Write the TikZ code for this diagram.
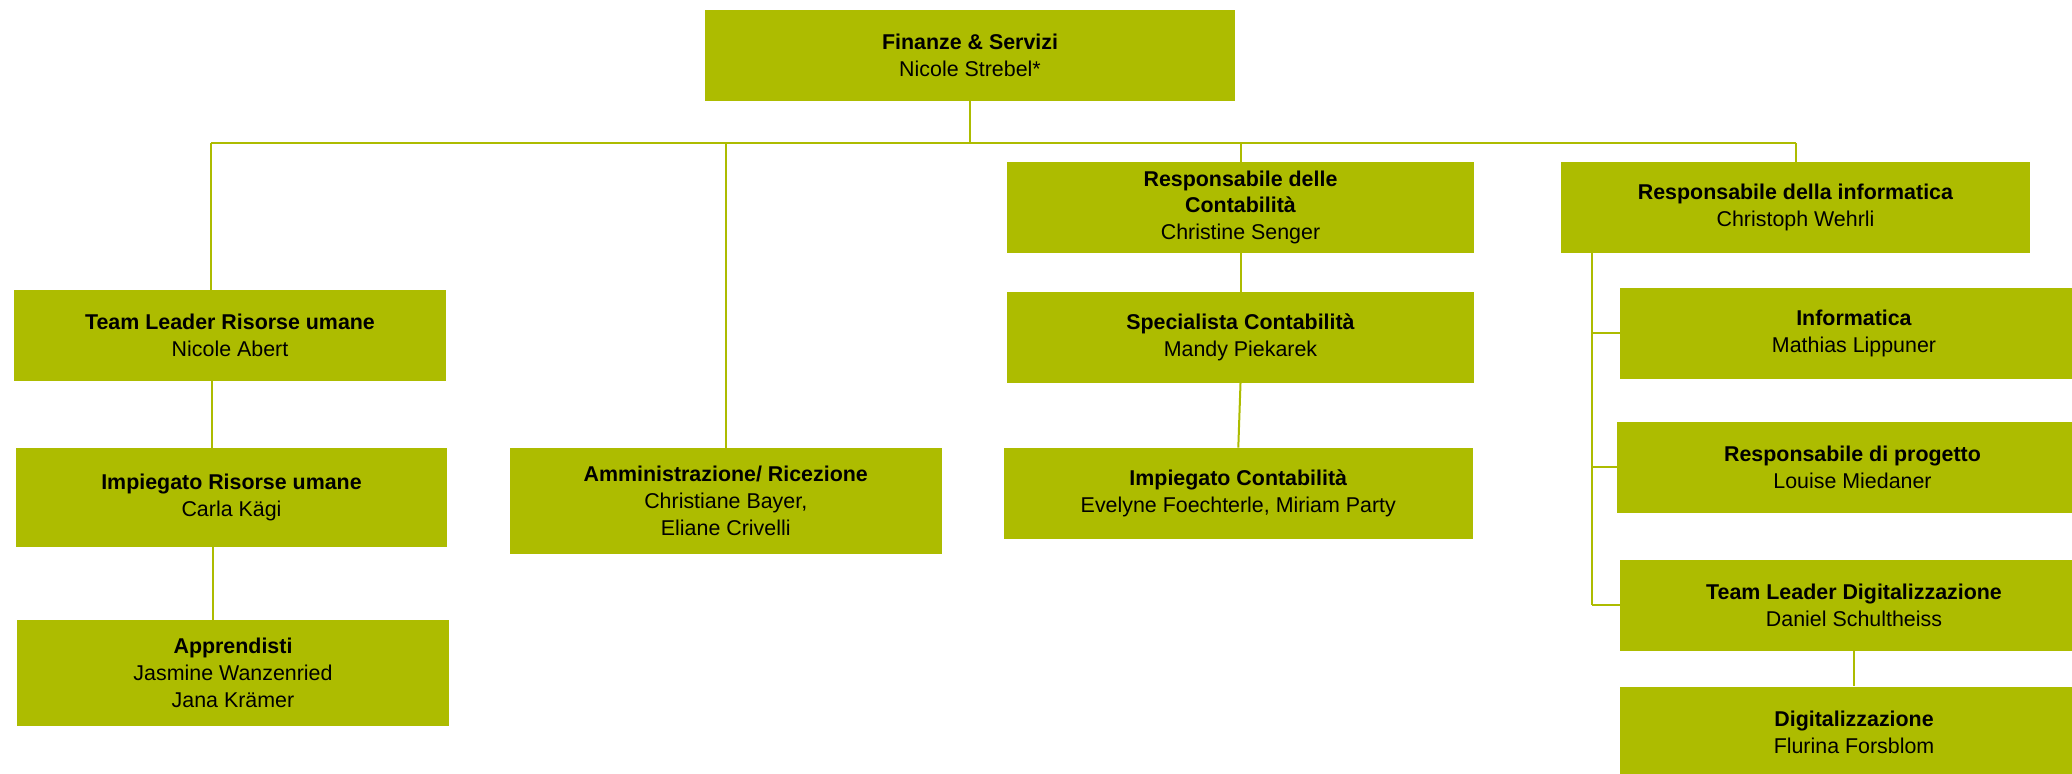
\documentclass[tikz,border=0pt]{standalone}
\usepackage{fontspec}
\setmainfont{Liberation Sans}
\definecolor{orggreen}{RGB}{173,188,0}
\begin{document}
\begin{tikzpicture}[x=0.5pt,y=-0.5pt,
  box/.style={fill=orggreen, inner sep=0pt, align=center,
    font=\fontsize{10.7}{13.4}\selectfont, minimum height=45.35pt},
  conn/.style={draw=orggreen, line width=1pt}]
\useasboundingbox (0,0) rectangle (2072,774);
\clip (0,0) rectangle (2072,774);

\node[box, minimum width=265pt] (fin) at (970,55.3) {\textbf{Finanze \& Servizi}\\Nicole Strebel*};
\node[box, minimum width=216pt] (tlru) at (230,335.3) {\textbf{Team Leader Risorse umane}\\Nicole Abert};
\node[box, minimum width=215.5pt, minimum height=49.3pt] (imru) at (231.5,497.3) {\textbf{Impiegato Risorse umane}\\Carla Kägi};
\node[box, minimum width=216pt, minimum height=52.8pt] (appr) at (233,672.8) {\textbf{Apprendisti}\\Jasmine Wanzenried\\Jana Krämer};
\node[box, minimum width=215.75pt, minimum height=52.8pt] (amm) at (725.75,500.8) {\textbf{Amministrazione/ Ricezione}\\Christiane Bayer,\\Eliane Crivelli};
\node[box, minimum width=233.5pt] (rcont) at (1240.5,207.3) {\textbf{Responsabile delle}\\\textbf{Contabilità}\\Christine Senger};
\node[box, minimum width=233.5pt] (spec) at (1240.5,337.3) {\textbf{Specialista Contabilità}\\Mandy Piekarek};
\node[box, minimum width=234.3pt] (impc) at (1238.3,493.3) {\textbf{Impiegato Contabilità}\\Evelyne Foechterle, Miriam Party};
\node[box, minimum width=234.5pt] (rinfo) at (1795.5,207.3) {\textbf{Responsabile della informatica}\\Christoph Wehrli};
\node[box, minimum width=234pt] (info) at (1854,333.3) {\textbf{Informatica}\\Mathias Lippuner};
\node[box, minimum width=235.5pt] (rprog) at (1852.5,467.3) {\textbf{Responsabile di progetto}\\Louise Miedaner};
\node[box, minimum width=234pt] (tld) at (1854,605.3) {\textbf{Team Leader Digitalizzazione}\\Daniel Schultheiss};
\node[box, minimum width=234pt] (digit) at (1854,732) {\textbf{Digitalizzazione}\\Flurina Forsblom};

\coordinate (bl) at (211,143);
\coordinate (br) at (rinfo.north |- bl);
\coordinate (hr1) at (212,0);
\coordinate (hr2) at (213,0);
\coordinate (it) at (1592,0);

\draw[conn, line width=1.2pt] (bl) -- (br);
\draw[conn] (fin.south) -- (fin.south |- bl);
\draw[conn] (bl) -- (bl |- tlru.north);
\draw[conn] (amm.north |- bl) -- (amm.north);
\draw[conn] (rcont.north |- bl) -- (rcont.north);
\draw[conn] (br) -- (rinfo.north);
\draw[conn] (tlru.south -| hr1) -- (imru.north -| hr1);
\draw[conn] (imru.south -| hr2) -- (appr.north -| hr2);
\draw[conn] (rcont.south) -- (spec.north);
\draw[conn] (spec.south) -- (impc.north);
\draw[conn] (rinfo.south -| it) -- (tld.west -| it);
\draw[conn] (info.west -| it) -- (info.west);
\draw[conn] (rprog.west -| it) -- (rprog.west);
\draw[conn] (tld.west -| it) -- (tld.west);
\draw[conn] (tld.south) -- (digit.north);
\end{tikzpicture}
\end{document}
